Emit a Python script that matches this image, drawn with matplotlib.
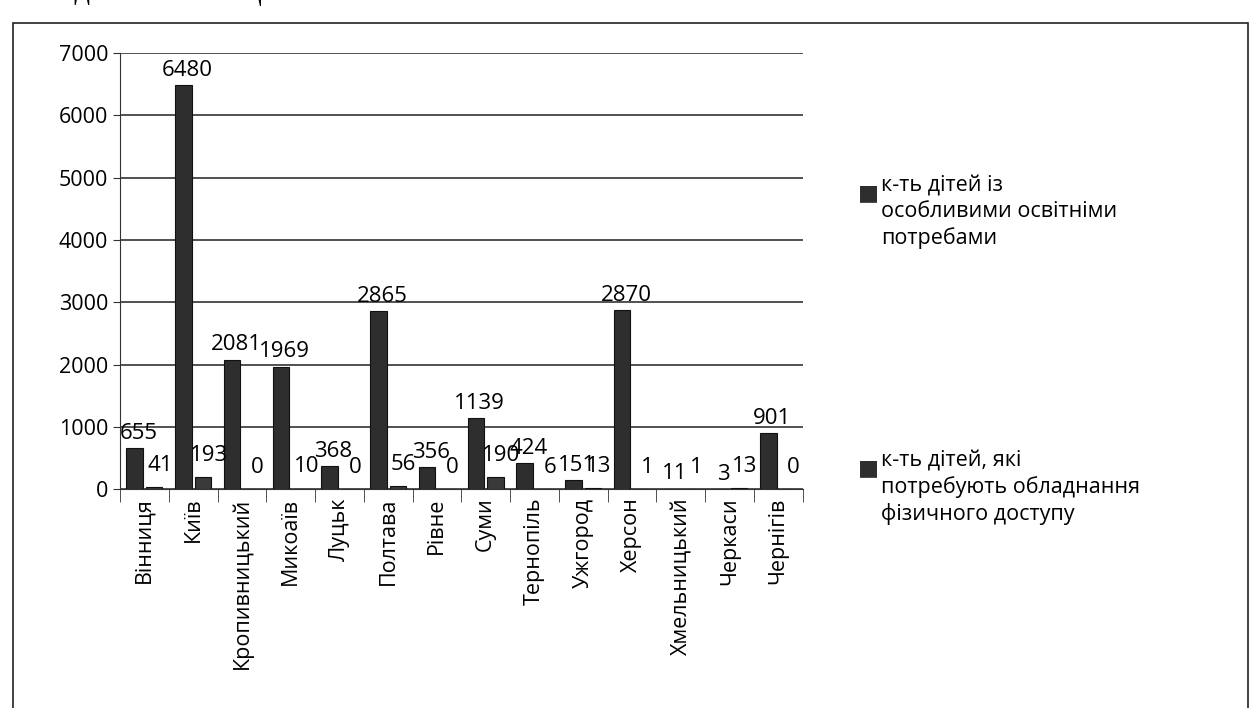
import numpy as np
import matplotlib.pyplot as plt
from matplotlib.patches import Rectangle

plt.rcParams['font.family'] = ['Open Sans', 'DejaVu Sans']

# data
cities = ["Вінниця", "Київ", "Кропивницький", "Микоаїв", "Луцьк", "Полтава", "Рівне",
          "Суми", "Тернопіль", "Ужгород", "Херсон", "Хмельницький", "Черкаси", "Чернігів"]
special_needs = [655, 6480, 2081, 1969, 368, 2865, 356, 1139, 424, 151, 2870, 11, 3, 901]
physical_access = [41, 193, 0, 10, 0, 56, 0, 190, 6, 13, 1, 1, 13, 0]
legend_labels = ["к-ть дітей із\nособливими освітніми\nпотребами",
                 "к-ть дітей, які\nпотребують обладнання\nфізичного доступу"]

fig = plt.figure(figsize=(12.5, 7.08), dpi=100)
ax = fig.add_axes([0.096, 0.309, 0.546, 0.616])

x = np.arange(len(cities))
w = 0.34
b1 = ax.bar(x - 0.2, special_needs, w, color="#2e2e2e", edgecolor="#111111", linewidth=0.8, zorder=3)
b2 = ax.bar(x + 0.2, physical_access, w, color="#3a3a3a", edgecolor="#111111", linewidth=0.8, zorder=3)

# value labels (they crowd each other in the original too)
for xi, v in zip(x, special_needs):
    ax.annotate(str(v), (xi - 0.12, v), xytext=(0, 3), textcoords="offset points",
                ha="center", va="bottom", fontsize=16)
for xi, v in zip(x, physical_access):
    ax.annotate(str(v), (xi + 0.32, v), xytext=(0, 8), textcoords="offset points",
                ha="center", va="bottom", fontsize=16)

ax.set_ylim(0, 7000)
ax.set_xlim(-0.5, len(cities) - 0.5)
ax.set_yticks(range(0, 7001, 1000))
ax.tick_params(axis="y", labelsize=15.5, length=5, color="#333333")
ax.set_xticks(x)
ax.set_xticklabels(cities, rotation=90, fontsize=15.5)
ax.tick_params(axis="x", length=0, pad=6)
ax.set_xticks(np.arange(-0.5, len(cities), 1), minor=True)
ax.tick_params(axis="x", which="minor", length=9, color="#333333")

ax.grid(axis="y", color="#333333", linewidth=1.2, zorder=0)
for s in ["top", "right"]:
    ax.spines[s].set_visible(False)
ax.spines["left"].set_color("#333333")
ax.spines["bottom"].set_color("#333333")

# legend as square markers with multi-line text
fig.text(0.686, 0.741, "■", fontsize=16, va="top", ha="left", color="#2e2e2e")
fig.text(0.705, 0.752, legend_labels[0], fontsize=15.5, va="top", ha="left", linespacing=1.3)
fig.text(0.686, 0.353, "■", fontsize=16, va="top", ha="left", color="#2e2e2e")
fig.text(0.705, 0.364, legend_labels[1], fontsize=15.5, va="top", ha="left", linespacing=1.3)

# outer frame of the chart
fig.patches.append(Rectangle((0.01, -0.05), 0.988, 1.018, transform=fig.transFigure,
                             fill=False, edgecolor="#222222", linewidth=1.2))
# cut-off line of text above the chart
fig.text(0.005, 1.012, "1969 дітей – 10 тощо.", fontsize=22, family="Liberation Serif",
         va="center", ha="left")

fig.savefig("out.png", dpi=100)
